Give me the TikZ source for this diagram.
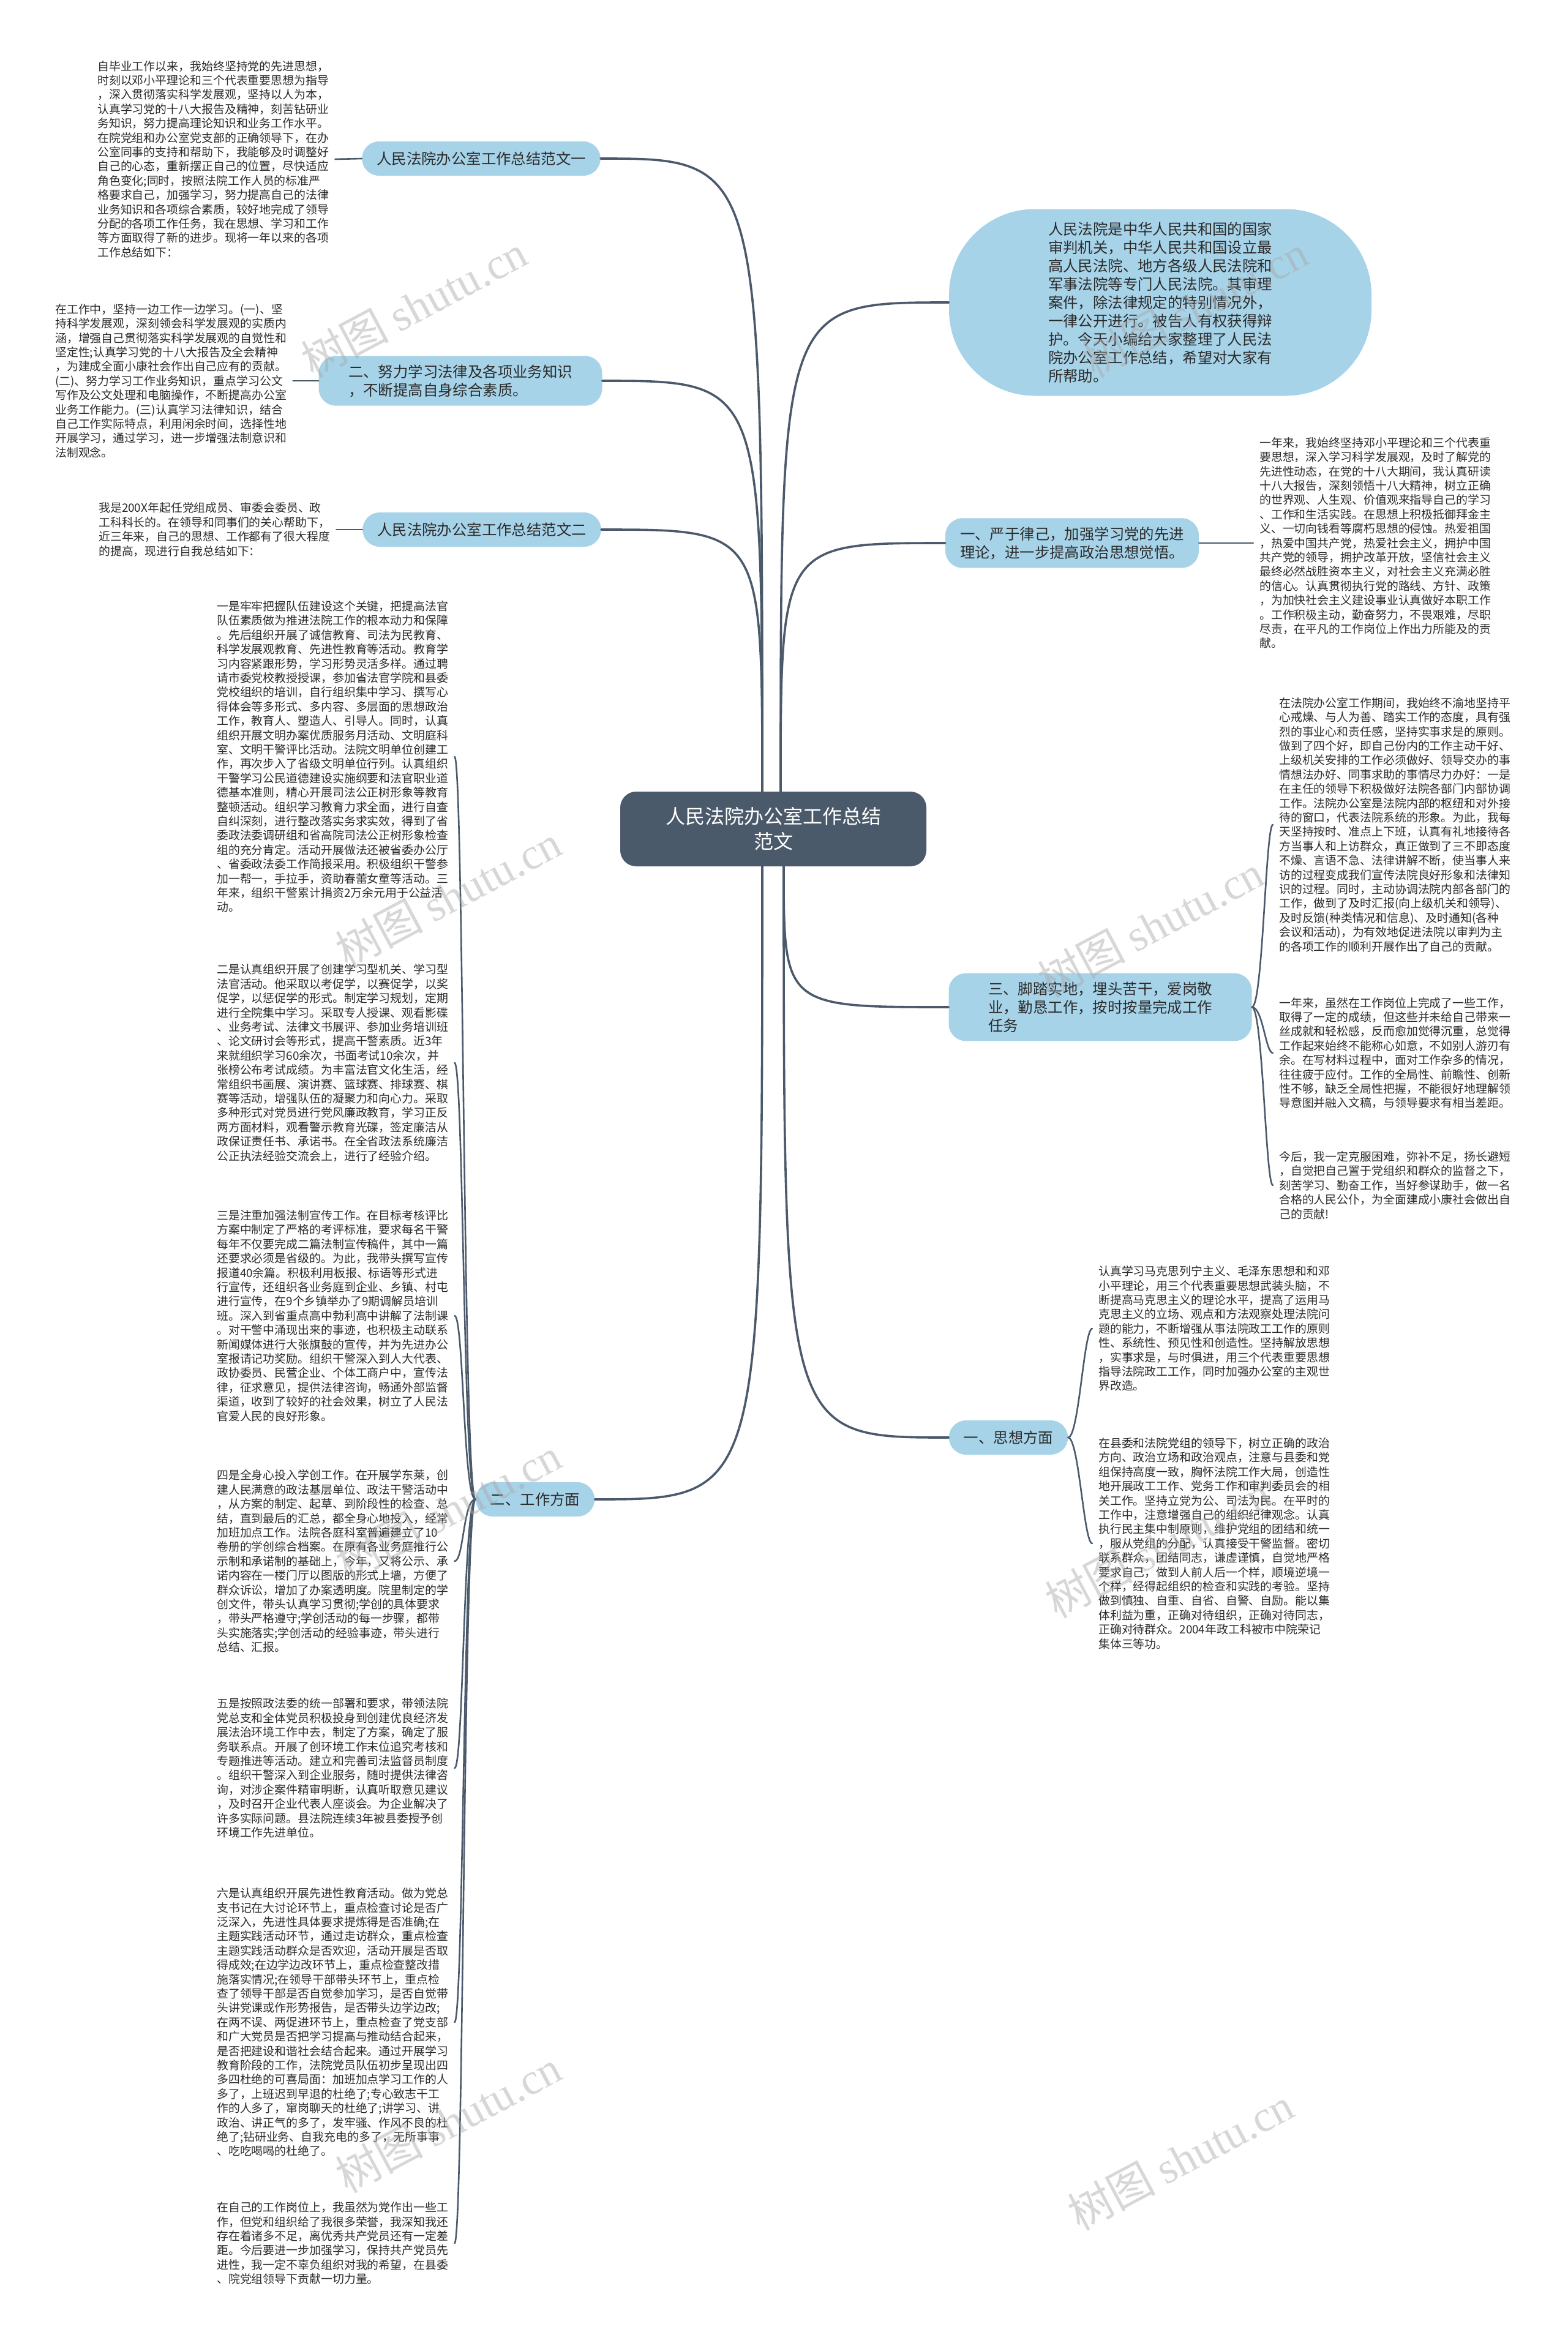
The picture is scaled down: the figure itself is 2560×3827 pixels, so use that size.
\documentclass[tikz,border=0pt]{standalone}
\usepackage{fontspec}
\setmainfont{Noto Sans CJK SC}
\newfontfamily\wmserif{Liberation Serif}
\usetikzlibrary{calc}
\definecolor{mapSlate}{HTML}{4B5A6B}
\definecolor{mapSky}{HTML}{A7D3E9}
\definecolor{mapInk}{HTML}{2B2B2B}
\definecolor{mapLine}{HTML}{4B5A6B}
\definecolor{mapMark}{HTML}{A8A8A8}

\begin{document}
\begin{tikzpicture}[x=1pt,y=-1pt,line cap=round,line join=round]
\path[fill=white] (0,0) rectangle (2560,3827);
\tikzset{hub/.style={fill=mapSlate,text=white,rounded corners=26pt,align=center,minimum width=500pt,minimum height=122pt,font=\fontsize{32}{41}\selectfont},branch/.style={fill=mapSky,text=mapInk,rounded corners=28pt,align=left,inner xsep=24pt,inner ysep=14pt,minimum height=56pt,font=\fontsize{24.4}{30}\selectfont},leaf/.style={text=mapInk,align=left,inner xsep=10pt,inner ysep=0pt,anchor=west,font=\fontsize{18.9}{23.4}\selectfont},link/.style={draw=mapLine,line width=3.6pt},twig/.style={draw=mapLine,line width=2.6pt},wmark/.style={text=mapMark,opacity=0.45,rotate=28,font=\fontsize{72}{72}\selectfont}}
\node[hub] (hub) at (1263,1354) {人民法院办公室工作总结\\范文};
\node[branch,rounded corners=140pt,minimum width=690pt,minimum height=305pt] (intro) at (1895,494) {人民法院是中华人民共和国的国家\\%
审判机关，中华人民共和国设立最\\%
高人民法院、地方各级人民法院和\\%
军事法院等专门人民法院。其审理\\%
案件，除法律规定的特别情况外，\\%
一律公开进行。被告人有权获得辩\\%
护。今天小编给大家整理了人民法\\%
院办公室工作总结，希望对大家有\\%
所帮助。};
\node[branch,minimum width=403pt] (disc) at (1751,887) {一、严于律己，加强学习党的先进\\理论，进一步提高政治思想觉悟。};
\node[branch,minimum width=495pt] (duty) at (1797,1645) {三、脚踏实地，埋头苦干，爱岗敬\\业，勤恳工作，按时按量完成工作\\任务};
\node[branch] (thought) at (1647,2348) {一、思想方面};
\node[branch] (sumA) at (786,259) {人民法院办公室工作总结范文一};
\node[branch,minimum width=463pt] (learn) at (752,622) {二、努力学习法律及各项业务知识\\，不断提高自身综合素质。};
\node[branch] (sumB) at (787,865) {人民法院办公室工作总结范文二};
\node[branch] (work) at (874,2449) {二、工作方面};
\node[leaf] (sumAtxt) at (149,260) {自毕业工作以来，我始终坚持党的先进思想，\\%
时刻以邓小平理论和三个代表重要思想为指导\\%
，深入贯彻落实科学发展观，坚持以人为本，\\%
认真学习党的十八大报告及精神，刻苦钻研业\\%
务知识，努力提高理论知识和业务工作水平。\\%
在院党组和办公室党支部的正确领导下，在办\\%
公室同事的支持和帮助下，我能够及时调整好\\%
自己的心态，重新摆正自己的位置，尽快适应\\%
角色变化;同时，按照法院工作人员的标准严\\%
格要求自己，加强学习，努力提高自己的法律\\%
业务知识和各项综合素质，较好地完成了领导\\%
分配的各项工作任务，我在思想、学习和工作\\%
等方面取得了新的进步。现将一年以来的各项\\%
工作总结如下：};
\node[leaf] (learnTxt) at (80,622) {在工作中，坚持一边工作一边学习。(一)、坚\\%
持科学发展观，深刻领会科学发展观的实质内\\%
涵，增强自己贯彻落实科学发展观的自觉性和\\%
坚定性;认真学习党的十八大报告及全会精神\\%
，为建成全面小康社会作出自己应有的贡献。\\%
(二)、努力学习工作业务知识，重点学习公文\\%
写作及公文处理和电脑操作，不断提高办公室\\%
业务工作能力。(三)认真学习法律知识，结合\\%
自己工作实际特点，利用闲余时间，选择性地\\%
开展学习，通过学习，进一步增强法制意识和\\%
法制观念。};
\node[leaf] (sumBtxt) at (151,865) {我是200X年起任党组成员、审委会委员、政\\%
工科科长的。在领导和同事们的关心帮助下，\\%
近三年来，自己的思想、工作都有了很大程度\\%
的提高，现进行自我总结如下：};
\node[leaf] (workA) at (344,1236) {一是牢牢把握队伍建设这个关键，把提高法官\\%
队伍素质做为推进法院工作的根本动力和保障\\%
。先后组织开展了诚信教育、司法为民教育、\\%
科学发展观教育、先进性教育等活动。教育学\\%
习内容紧跟形势，学习形势灵活多样。通过聘\\%
请市委党校教授授课，参加省法官学院和县委\\%
党校组织的培训，自行组织集中学习、撰写心\\%
得体会等多形式、多内容、多层面的思想政治\\%
工作，教育人、塑造人、引导人。同时，认真\\%
组织开展文明办案优质服务月活动、文明庭科\\%
室、文明干警评比活动。法院文明单位创建工\\%
作，再次步入了省级文明单位行列。认真组织\\%
干警学习公民道德建设实施纲要和法官职业道\\%
德基本准则，精心开展司法公正树形象等教育\\%
整顿活动。组织学习教育力求全面，进行自查\\%
自纠深刻，进行整改落实务求实效，得到了省\\%
委政法委调研组和省高院司法公正树形象检查\\%
组的充分肯定。活动开展做法还被省委办公厅\\%
、省委政法委工作简报采用。积极组织干警参\\%
加一帮一，手拉手，资助春蕾女童等活动。三\\%
年来，组织干警累计捐资2万余元用于公益活\\%
动。};
\node[leaf] (workB) at (344,1736) {二是认真组织开展了创建学习型机关、学习型\\%
法官活动。他采取以考促学，以赛促学，以奖\\%
促学，以惩促学的形式。制定学习规划，定期\\%
进行全院集中学习。采取专人授课、观看影碟\\%
、业务考试、法律文书展评、参加业务培训班\\%
、论文研讨会等形式，提高干警素质。近3年\\%
来就组织学习60余次，书面考试10余次，并\\%
张榜公布考试成绩。为丰富法官文化生活，经\\%
常组织书画展、演讲赛、篮球赛、排球赛、棋\\%
赛等活动，增强队伍的凝聚力和向心力。采取\\%
多种形式对党员进行党风廉政教育，学习正反\\%
两方面材料，观看警示教育光碟，签定廉洁从\\%
政保证责任书、承诺书。在全省政法系统廉洁\\%
公正执法经验交流会上，进行了经验介绍。};
\node[leaf] (workC) at (344,2149) {三是注重加强法制宣传工作。在目标考核评比\\%
方案中制定了严格的考评标准，要求每名干警\\%
每年不仅要完成二篇法制宣传稿件，其中一篇\\%
还要求必须是省级的。为此，我带头撰写宣传\\%
报道40余篇。积极利用板报、标语等形式进\\%
行宣传，还组织各业务庭到企业、乡镇、村屯\\%
进行宣传，在9个乡镇举办了9期调解员培训\\%
班。深入到省重点高中勃利高中讲解了法制课\\%
。对干警中涌现出来的事迹，也积极主动联系\\%
新闻媒体进行大张旗鼓的宣传，并为先进办公\\%
室报请记功奖励。组织干警深入到人大代表、\\%
政协委员、民营企业、个体工商户中，宣传法\\%
律，征求意见，提供法律咨询，畅通外部监督\\%
渠道，收到了较好的社会效果，树立了人民法\\%
官爱人民的良好形象。};
\node[leaf] (workD) at (344,2550) {四是全身心投入学创工作。在开展学东莱，创\\%
建人民满意的政法基层单位、政法干警活动中\\%
，从方案的制定、起草、到阶段性的检查、总\\%
结，直到最后的汇总，都全身心地投入，经常\\%
加班加点工作。法院各庭科室普遍建立了10\\%
卷册的学创综合档案。在原有各业务庭推行公\\%
示制和承诺制的基础上，今年，又将公示、承\\%
诺内容在一楼门厅以图版的形式上墙，方便了\\%
群众诉讼，增加了办案透明度。院里制定的学\\%
创文件，带头认真学习贯彻;学创的具体要求\\%
，带头严格遵守;学创活动的每一步骤，都带\\%
头实施落实;学创活动的经验事迹，带头进行\\%
总结、汇报。};
\node[leaf] (workE) at (344,2888) {五是按照政法委的统一部署和要求，带领法院\\%
党总支和全体党员积极投身到创建优良经济发\\%
展法治环境工作中去，制定了方案，确定了服\\%
务联系点。开展了创环境工作末位追究考核和\\%
专题推进等活动。建立和完善司法监督员制度\\%
。组织干警深入到企业服务，随时提供法律咨\\%
询，对涉企案件精审明断，认真听取意见建议\\%
，及时召开企业代表人座谈会。为企业解决了\\%
许多实际问题。县法院连续3年被县委授予创\\%
环境工作先进单位。};
\node[leaf] (workF) at (344,3303) {六是认真组织开展先进性教育活动。做为党总\\%
支书记在大讨论环节上，重点检查讨论是否广\\%
泛深入，先进性具体要求提炼得是否准确;在\\%
主题实践活动环节，通过走访群众，重点检查\\%
主题实践活动群众是否欢迎，活动开展是否取\\%
得成效;在边学边改环节上，重点检查整改措\\%
施落实情况;在领导干部带头环节上，重点检\\%
查了领导干部是否自觉参加学习，是否自觉带\\%
头讲党课或作形势报告，是否带头边学边改;\\%
在两不误、两促进环节上，重点检查了党支部\\%
和广大党员是否把学习提高与推动结合起来，\\%
是否把建设和谐社会结合起来。通过开展学习\\%
教育阶段的工作，法院党员队伍初步呈现出四\\%
多四杜绝的可喜局面：加班加点学习工作的人\\%
多了，上班迟到早退的杜绝了;专心致志干工\\%
作的人多了，窜岗聊天的杜绝了;讲学习、讲\\%
政治、讲正气的多了，发牢骚、作风不良的杜\\%
绝了;钻研业务、自我充电的多了，无所事事\\%
、吃吃喝喝的杜绝了。};
\node[leaf] (workG) at (344,3664) {在自己的工作岗位上，我虽然为党作出一些工\\%
作，但党和组织给了我很多荣誉，我深知我还\\%
存在着诸多不足，离优秀共产党员还有一定差\\%
距。今后要进一步加强学习，保持共产党员先\\%
进性，我一定不辜负组织对我的希望，在县委\\%
、院党组领导下贡献一切力量。};
\node[leaf] (discTxt) at (2047,887) {一年来，我始终坚持邓小平理论和三个代表重\\%
要思想，深入学习科学发展观，及时了解党的\\%
先进性动态，在党的十八大期间，我认真研读\\%
十八大报告，深刻领悟十八大精神，树立正确\\%
的世界观、人生观、价值观来指导自己的学习\\%
、工作和生活实践。在思想上积极抵御拜金主\\%
义、一切向钱看等腐朽思想的侵蚀。热爱祖国\\%
，热爱中国共产党，热爱社会主义，拥护中国\\%
共产党的领导，拥护改革开放，坚信社会主义\\%
最终必然战胜资本主义，对社会主义充满必胜\\%
的信心。认真贯彻执行党的路线、方针、政策\\%
，为加快社会主义建设事业认真做好本职工作\\%
。工作积极主动，勤奋努力，不畏艰难，尽职\\%
尽责，在平凡的工作岗位上作出力所能及的贡\\%
献。};
\node[leaf] (dutyA) at (2079,1347) {在法院办公室工作期间，我始终不渝地坚持平\\%
心戒燥、与人为善、踏实工作的态度，具有强\\%
烈的事业心和责任感，坚持实事求是的原则。\\%
做到了四个好，即自己份内的工作主动干好、\\%
上级机关安排的工作必须做好、领导交办的事\\%
情想法办好、同事求助的事情尽力办好：一是\\%
在主任的领导下积极做好法院各部门内部协调\\%
工作。法院办公室是法院内部的枢纽和对外接\\%
待的窗口，代表法院系统的形象。为此，我每\\%
天坚持按时、准点上下班，认真有礼地接待各\\%
方当事人和上访群众，真正做到了三不即态度\\%
不燥、言语不急、法律讲解不断，使当事人来\\%
访的过程变成我们宣传法院良好形象和法律知\\%
识的过程。同时，主动协调法院内部各部门的\\%
工作，做到了及时汇报(向上级机关和领导)、\\%
及时反馈(种类情况和信息)、及时通知(各种\\%
会议和活动)，为有效地促进法院以审判为主\\%
的各项工作的顺利开展作出了自己的贡献。};
\node[leaf] (dutyB) at (2079,1720) {一年来，虽然在工作岗位上完成了一些工作，\\%
取得了一定的成绩，但这些并未给自己带来一\\%
丝成就和轻松感，反而愈加觉得沉重，总觉得\\%
工作起来始终不能称心如意，不如别人游刃有\\%
余。在写材料过程中，面对工作杂多的情况，\\%
往往疲于应付。工作的全局性、前瞻性、创新\\%
性不够，缺乏全局性把握，不能很好地理解领\\%
导意图并融入文稿，与领导要求有相当差距。};
\node[leaf] (dutyC) at (2079,1936) {今后，我一定克服困难，弥补不足，扬长避短\\%
，自觉把自己置于党组织和群众的监督之下，\\%
刻苦学习、勤奋工作，当好参谋助手，做一名\\%
合格的人民公仆，为全面建成小康社会做出自\\%
己的贡献!};
\node[leaf] (thoughtA) at (1784,2170) {认真学习马克思列宁主义、毛泽东思想和和邓\\%
小平理论，用三个代表重要思想武装头脑，不\\%
断提高马克思主义的理论水平，提高了运用马\\%
克思主义的立场、观点和方法观察处理法院问\\%
题的能力，不断增强从事法院政工工作的原则\\%
性、系统性、预见性和创造性。坚持解放思想\\%
，实事求是，与时俱进，用三个代表重要思想\\%
指导法院政工工作，同时加强办公室的主观世\\%
界改造。};
\node[leaf] (thoughtB) at (1784,2521) {在县委和法院党组的领导下，树立正确的政治\\%
方向、政治立场和政治观点，注意与县委和党\\%
组保持高度一致，胸怀法院工作大局，创造性\\%
地开展政工工作、党务工作和审判委员会的相\\%
关工作。坚持立党为公、司法为民。在平时的\\%
工作中，注意增强自己的组织纪律观念。认真\\%
执行民主集中制原则，维护党组的团结和统一\\%
，服从党组的分配，认真接受干警监督。密切\\%
联系群众，团结同志，谦虚谨慎，自觉地严格\\%
要求自己，做到人前人后一个样，顺境逆境一\\%
个样，经得起组织的检查和实践的考验。坚持\\%
做到慎独、自重、自省、自警、自励。能以集\\%
体利益为重，正确对待组织，正确对待同志，\\%
正确对待群众。2004年政工科被市中院荣记\\%
集体三等功。};
\coordinate (upL) at ($(hub.north)+(-18,0)$);
\coordinate (upR) at ($(hub.north)+(12,0)$);
\coordinate (dnL) at ($(hub.south)+(-18,0)$);
\coordinate (dnR) at ($(hub.south)+(17,0)$);
\foreach \b in {sumA,learn,sumB} \draw[link] (upL) .. controls (upL |- \b.east) .. (\b.east);
\foreach \b in {intro,disc} \draw[link] (upR) .. controls (upR |- \b.west) .. (\b.west);
\foreach \b in {duty,thought} \draw[link] (dnR) .. controls (dnR |- \b.west) .. (\b.west);
\draw[link] (dnL) .. controls (dnL |- work.east) .. (work.east);
\draw[twig] (sumA.west) -- (sumAtxt.east);
\draw[twig] (learn.west) -- (learnTxt.east);
\draw[twig] (sumB.west) -- (sumBtxt.east);
\draw[twig] (disc.east) -- (discTxt.west);
\foreach \t in {workA,workB,workC,workD,workE,workF,workG} \draw[twig] (work.west) .. controls ($(work.west)+(-20,0)$) and ($(\t.east)+(15,0)$) .. (\t.east);
\foreach \t in {dutyA,dutyB,dutyC} \draw[twig] (duty.east) .. controls ($(duty.east)+(18,0)$) and ($(\t.west)+(-12,0)$) .. (\t.west);
\foreach \t in {thoughtA,thoughtB} \draw[twig] (thought.east) .. controls ($(thought.east)+(18,0)$) and ($(\t.west)+(-14,0)$) .. (\t.west);
\foreach \x/\y [count=\i] in {676/500,1952/500,732/1464,1879/1513,732/2465,1891/2526,732/3465,1928/3526} \node[wmark] (wm\i) at (\x,\y) {树图 {\wmserif shutu.cn}};
\end{tikzpicture}
\end{document}
